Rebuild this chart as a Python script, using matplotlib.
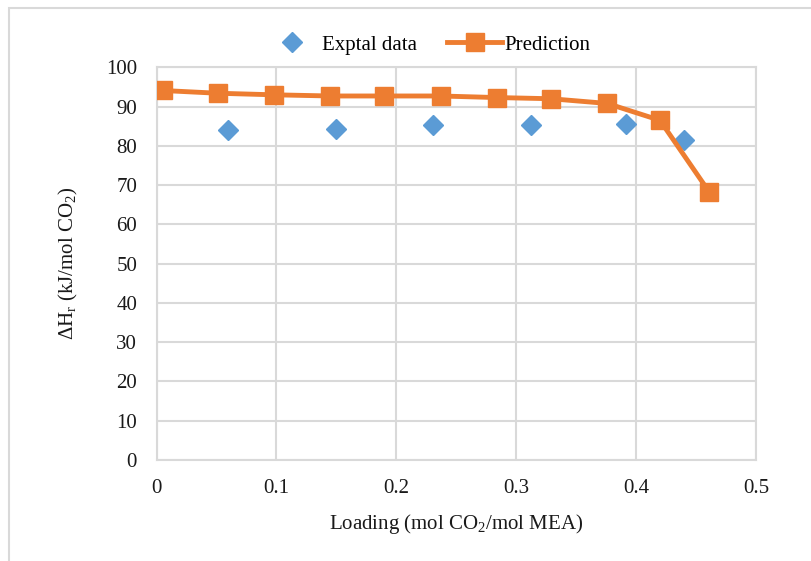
import matplotlib.pyplot as plt
from matplotlib.patches import Rectangle

# 数据
expt_loading = [0.060, 0.150, 0.231, 0.312, 0.392, 0.440]
expt_dh = [84.0, 84.3, 85.3, 85.3, 85.5, 81.5]

pred_loading = [0.005, 0.051, 0.098, 0.145, 0.190, 0.237, 0.284, 0.329, 0.376, 0.420, 0.461]
pred_dh = [94.1, 93.4, 93.0, 92.7, 92.7, 92.7, 92.3, 92.0, 90.8, 86.5, 68.3]

x_ticks = [0, 0.1, 0.2, 0.3, 0.4, 0.5]
x_ticklabels = ['0', '0.1', '0.2', '0.3', '0.4', '0.5']
y_ticks = list(range(0, 101, 10))

blue = '#5B9BD5'
orange = '#ED7D31'
gray = '#D9D9D9'
txt = '#1a1a1a'

plt.rcParams['font.family'] = ['Liberation Serif', 'DejaVu Serif']
plt.rcParams['mathtext.fontset'] = 'custom'
plt.rcParams['mathtext.rm'] = 'Liberation Serif'
plt.rcParams['mathtext.it'] = 'Liberation Serif'

fig = plt.figure(figsize=(8.11, 5.61), dpi=100)
ax = fig.add_axes([0.193, 0.18, 0.739, 0.7])

# 外框（右边和下边被裁掉了）
fig.patches.append(Rectangle((9 / 811, -0.1), 1.2, 1 - 8 / 561 + 0.1, transform=fig.transFigure,
                             fill=False, edgecolor=gray, linewidth=1.5))

ax.plot(expt_loading, expt_dh, linestyle='none', marker='D', markersize=10,
        color=blue, label='Exptal data', zorder=3)
ax.plot(pred_loading, pred_dh, color=orange, linewidth=3.5, marker='s', markersize=13,
        label='Prediction', zorder=4)

ax.set_xlim(0, 0.5)
ax.set_ylim(0, 100)
ax.set_xticks(x_ticks)
ax.set_xticklabels(x_ticklabels)
ax.set_yticks(y_ticks)
ax.tick_params(length=0, labelsize=15, colors=txt)
ax.tick_params(axis='x', pad=14)
ax.tick_params(axis='y', pad=14)
ax.grid(True, color=gray, linewidth=1.5)
ax.set_axisbelow(True)
for s in ax.spines.values():
    s.set_color(gray)
    s.set_linewidth(1.5)

ax.set_xlabel('Loading (mol CO$_2$/mol MEA)', fontsize=15, color=txt, labelpad=10)
ax.set_ylabel(r'$\Delta$H$_r$ (kJ/mol CO$_2$)', fontsize=15, color=txt, labelpad=19)

fig.legend(loc='center', bbox_to_anchor=(0.527, 0.92), ncol=2, frameon=False, fontsize=15,
           handlelength=2.65, columnspacing=1.45, handletextpad=0.1)

plt.savefig('out.png', dpi=100)
